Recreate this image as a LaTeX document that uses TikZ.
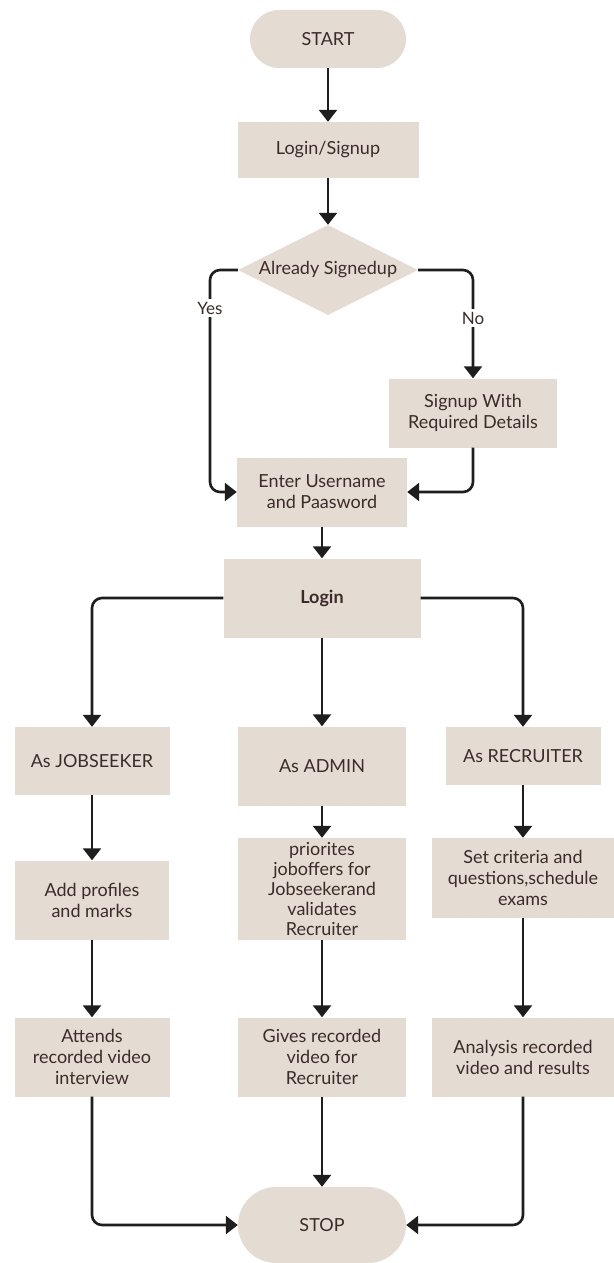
\documentclass[tikz,border=0pt]{standalone}
\usepackage{fontspec}
\setmainfont{Lato}
\usetikzlibrary{arrows.meta,shapes.geometric,calc}
\definecolor{boxfill}{HTML}{E4DCD2}
\definecolor{txt}{HTML}{3B2B2B}
\definecolor{ln}{HTML}{1E1E1E}
\begin{document}
\begin{tikzpicture}[x=1pt,y=-1pt,
  box/.style={fill=boxfill,text=txt,align=center,inner sep=2pt,
    font=\fontsize{18}{21}\selectfont},
  sz/.style 2 args={minimum width=#1pt,minimum height=#2pt},
  term/.style={box,rounded corners=29pt},
  dia/.style={box,diamond,aspect=2,inner sep=0pt,minimum width=180pt,minimum height=90pt},
  arr/.style={draw=ln,line width=2.6pt,rounded corners=10pt,
    -{Triangle[width=18pt,length=12pt]}},
  lbl/.style={fill=white,text=txt,inner sep=3pt,font=\fontsize{17}{20}\selectfont}
]
\useasboundingbox (0,0) rectangle (613,1263);
\fill[white] (0,0) rectangle (613,1263);

\node[term,sz={156}{58}] (start) at (328,39) {START};
\node[box,sz={181}{56}] (ls) at (328,150) {Login/Signup};
\node[dia] (dia) at (328,270) {Already Signedup};
\node[box,sz={168}{69}] (signup) at (473,413) {Signup With\\Required Details};
\node[box,sz={170}{69}] (enter) at (322,492) {Enter Username\\and Paasword};
\node[box,sz={197}{79},font=\fontsize{18}{21}\selectfont\bfseries] (login) at (322,598) {Login};

\node[box,sz={155}{68}] (js) at (92,761) {As JOBSEEKER};
\node[box,sz={168}{79}] (admin) at (322,766) {As ADMIN};
\node[box,sz={155}{58}] (rec) at (523,756) {As RECRUITER};

\node[box,sz={154}{79}] (addp) at (92,900) {Add profiles\\and marks};
\node[box,sz={168}{102},font=\fontsize{18}{20}\selectfont] (prio) at (322,889) {priorites\\joboffers for\\Jobseekerand\\validates\\Recruiter};
\node[box,sz={182}{80}] (crit) at (523,878) {Set criteria and\\questions,schedule\\exams};

\node[box,sz={155}{79}] (att) at (92,1057) {Attends\\recorded video\\interview};
\node[box,sz={168}{79}] (gives) at (322,1057) {Gives recorded\\video for\\Recruiter};
\node[box,sz={182}{79}] (ana) at (523,1057) {Analysis recorded\\video and results};

\node[term,sz={168}{76},rounded corners=38pt] (stop) at (322,1225) {STOP};

\coordinate (yesx) at (210,270);
\coordinate (nox) at (473,270);

\draw[arr] (start.south) -- (ls.north);
\draw[arr] (ls.south) -- (dia.north);
\draw[arr] (dia.west) -- (yesx) -- (yesx |- enter.west) -- (enter.west);
\draw[arr] (dia.east) -- (nox) -- (signup.north);
\node[lbl] (yes) at (210,308) {Yes};
\node[lbl] (no) at (473,318) {No};
\draw[arr] (signup.south) |- (enter.east);
\draw[arr] (enter.south) -- (login.north);

\draw[arr] (login.west) -| (js.north);
\draw[arr] (login.south) -- (admin.north);
\draw[arr] (login.east) -| (rec.north);

\draw[arr] (js.south) -- (addp.north);
\draw[arr] (admin.south) -- (prio.north);
\draw[arr] (rec.south) -- (crit.north);

\draw[arr] (addp.south) -- (att.north);
\draw[arr] (prio.south) -- (gives.north);
\draw[arr] (crit.south) -- (ana.north);

\draw[arr] (att.south) |- (stop.west);
\draw[arr] (gives.south) -- (stop.north);
\draw[arr] (ana.south) |- (stop.east);
\end{tikzpicture}
\end{document}
